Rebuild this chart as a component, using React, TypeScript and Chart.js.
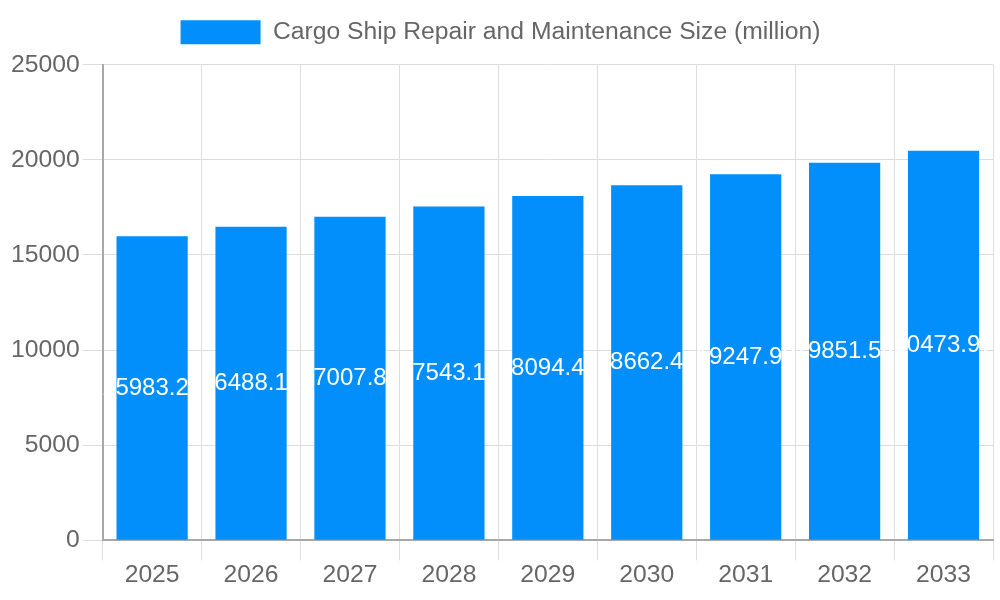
import React, { useEffect, useRef } from "react";
import { Chart, registerables } from "chart.js";

Chart.register(...registerables);

const years = ["2025", "2026", "2027", "2028", "2029", "2030", "2031", "2032", "2033"];
const marketSize = [15983.25, 16488.14, 17007.82, 17543.16, 18094.43, 18662.45, 19247.93, 19851.54, 20473.97];
const seriesLabel = "Cargo Ship Repair and Maintenance Size (million)";

const barColor = "#028ffc";
const gridColor = "#dddddd";
const axisColor = "#a8a8a8";
const textColor = "#666666";
const fontFamily = "'Liberation Sans', Arial, sans-serif";

// writes the value in the middle of each bar
const barValueLabels = {
  id: "barValueLabels",
  afterDatasetsDraw(chart: any) {
    const ctx = chart.ctx;
    const meta = chart.getDatasetMeta(0);
    const data = chart.data.datasets[0].data as number[];
    ctx.save();
    ctx.font = "24px " + fontFamily;
    ctx.fillStyle = "#ffffff";
    ctx.textAlign = "center";
    ctx.textBaseline = "middle";
    meta.data.forEach((bar: any, i: number) => {
      const y = (bar.y + bar.base) / 2;
      ctx.fillText(data[i].toFixed(2), bar.x, y);
    });
    ctx.restore();
  },
};

// a bit more room under the legend
const legendSpacer = {
  id: "legendSpacer",
  beforeInit(chart: any) {
    const fit = chart.legend.fit;
    chart.legend.fit = function () {
      fit.bind(chart.legend)();
      this.height += 10;
    };
  },
};

const App: React.FC = () => {
  const canvasRef = useRef<HTMLCanvasElement | null>(null);
  const chartRef = useRef<Chart | null>(null);

  useEffect(() => {
    document.body.style.margin = "0";
    if (chartRef.current) {
      chartRef.current.destroy();
    }
    if (!canvasRef.current) return;

    chartRef.current = new Chart(canvasRef.current, {
      type: "bar",
      data: {
        labels: years,
        datasets: [
          {
            label: seriesLabel,
            data: marketSize,
            backgroundColor: barColor,
            borderWidth: 0,
          },
        ],
      },
      options: {
        responsive: true,
        maintainAspectRatio: false,
        animation: false,
        font: { family: fontFamily, size: 24.7 },
        color: textColor,
        layout: { padding: { left: 8, right: 7, bottom: 10 } },
        scales: {
          x: {
            grid: { color: gridColor, tickLength: 20 },
            border: { color: axisColor, width: 2 },
            ticks: { color: textColor, padding: 0, font: { size: 24.7 } },
          },
          y: {
            min: 0,
            max: 25000,
            grid: { color: gridColor, tickLength: 20 },
            border: { color: axisColor, width: 2 },
            ticks: {
              stepSize: 5000,
              color: textColor,
              font: { size: 24.7 },
              callback: (v) => String(v),
            },
          },
        },
        plugins: {
          legend: {
            position: "top",
            labels: {
              boxWidth: 80,
              boxHeight: 24,
              padding: 20,
              color: textColor,
              font: { size: 24.7 },
            },
          },
          tooltip: { enabled: false },
        },
      },
      plugins: [barValueLabels, legendSpacer],
    });

    return () => {
      if (chartRef.current) {
        chartRef.current.destroy();
        chartRef.current = null;
      }
    };
  }, []);

  return (
    <div style={{ width: "100%", height: "600px", position: "relative" }}>
      <canvas ref={canvasRef} />
    </div>
  );
};

export default App;
